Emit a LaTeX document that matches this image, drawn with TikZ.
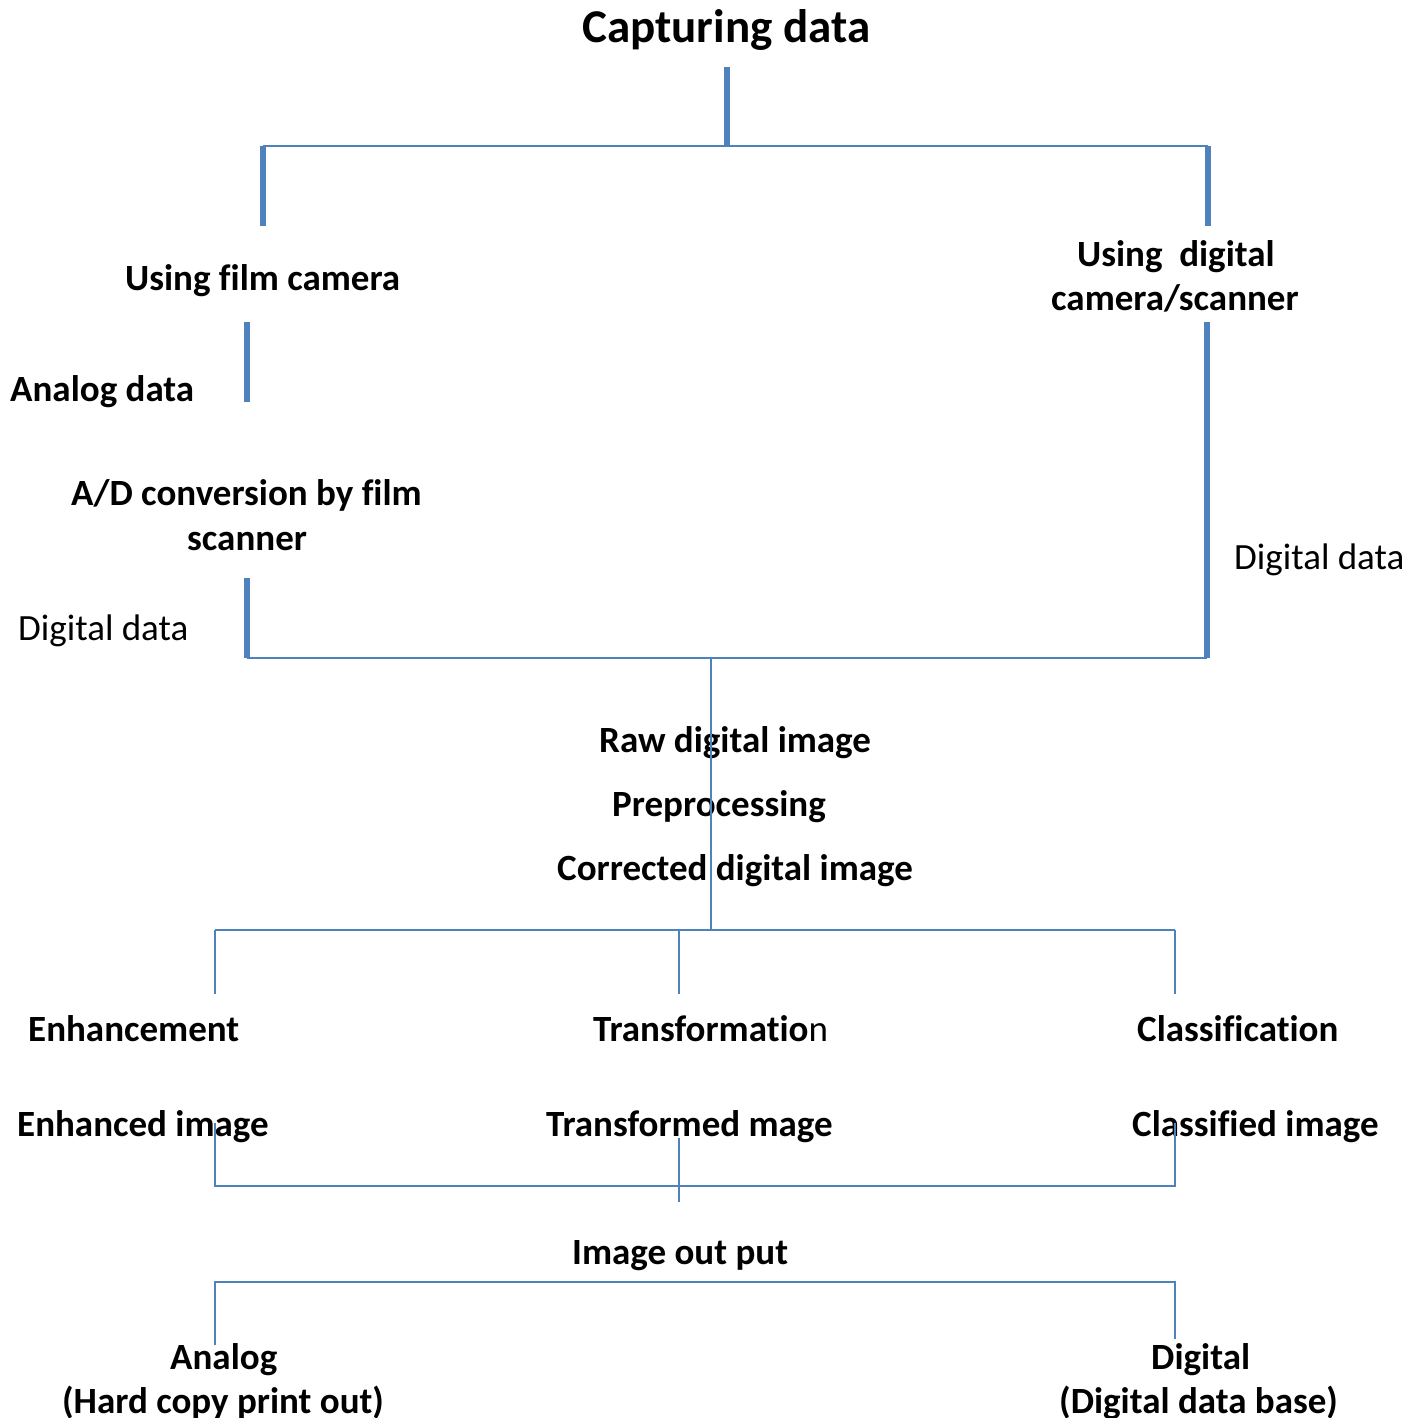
\documentclass[tikz,border=0pt]{standalone}
\usepackage{fontspec}
\setmainfont{Carlito}[Ligatures=CommonOff]
\definecolor{lnblue}{RGB}{79,129,189}
\begin{document}
\begin{tikzpicture}[x=1pt,y=-1pt,
  lbl/.style={anchor=base west,inner sep=0pt,yshift=-2pt,font=\fontsize{37}{45}\selectfont\bfseries},
  reg/.style={anchor=base west,inner sep=0pt,yshift=-2pt,font=\fontsize{37}{45}\selectfont},
  ttl/.style={anchor=base west,inner sep=0pt,yshift=-2pt,font=\fontsize{47}{56}\selectfont\bfseries},
  thk/.style={draw=lnblue,line width=5.5pt},
  thn/.style={draw=lnblue,line width=2pt}]
\useasboundingbox (0,0) rectangle (1412,1418);
% texts
\node[ttl] (title) at (582,41) {Capturing data};
\node[lbl] (film) at (125,288) {Using film camera};
\node[lbl] (analog) at (10,399) {Analog data};
\node[lbl] (ad1) at (71,503) {A/D conversion by film};
\node[lbl] (ad2) at (187,548) {scanner};
\node[reg] (digL) at (18,638) {Digital data};
\node[lbl] (dig1) at (1077,264) {Using\hspace{0.45em}digital};
\node[lbl] (dig2) at (1051,308) {camera/scanner};
\node[reg] (digR) at (1234,567) {Digital data};
\node[lbl] (raw) at (599,750) {Raw digital image};
\node[lbl] (pre) at (612,814) {Preprocessing};
\node[lbl] (corr) at (557,878) {Corrected digital image};
\node[lbl] (enh) at (28,1039) {Enhancement};
\node[lbl] (trf) at (593,1039) {Transformatio{\mdseries n}};
\node[lbl] (cls) at (1137,1039) {Classification};
\node[lbl] (enhi) at (17,1134) {Enhanced image};
\node[lbl] (trfi) at (546,1134) {Transformed mage};
\node[lbl] (clsi) at (1132,1134) {Classified image};
\node[lbl] (out) at (572,1262) {Image out put};
\node[lbl] (ana1) at (170,1367) {Analog};
\node[lbl] (ana2) at (62,1411) {(Hard copy print out)};
\node[lbl] (dg1) at (1151,1367) {Digital};
\node[lbl] (dg2) at (1059,1411) {(Digital data base)};
% connector points
\coordinate (a0) at (727,67);  \coordinate (a1) at (727,146);
\coordinate (b0) at (263,146); \coordinate (b1) at (1208,146);
\coordinate (b2) at (263,226); \coordinate (b3) at (1208,226);
\coordinate (c0) at (247,322); \coordinate (c1) at (247,402);
\coordinate (c2) at (247,578); \coordinate (c3) at (247,658);
\coordinate (d0) at (1207,322); \coordinate (d1) at (1207,658);
\coordinate (e0) at (711,658); \coordinate (e1) at (711,930);
\coordinate (f0) at (215,930); \coordinate (f1) at (1175,930);
\coordinate (f2) at (679,930);
\coordinate (g0) at (215,994); \coordinate (g1) at (679,994); \coordinate (g2) at (1175,994);
\coordinate (h0) at (215,1123); \coordinate (h1) at (215,1186);
\coordinate (h2) at (1175,1186); \coordinate (h3) at (1175,1123);
\coordinate (i0) at (679,1138); \coordinate (i1) at (679,1202);
\coordinate (j0) at (215,1345); \coordinate (j1) at (215,1282);
\coordinate (j2) at (1175,1282); \coordinate (j3) at (1175,1339);
% lines
\draw[thk] (a0) -- (a1);
\draw[thn] (b0) -- (b1);
\draw[thk] (b0) -- (b2);
\draw[thk] (b1) -- (b3);
\draw[thk] (c0) -- (c1);
\draw[thk] (c2) -- (c3);
\draw[thk] (d0) -- (d1);
\draw[thn] (c3) -- (d1);
\draw[thn] (e0) -- (e1);
\draw[thn] (f0) -- (f1);
\draw[thn] (f0) -- (g0);
\draw[thn] (f2) -- (g1);
\draw[thn] (f1) -- (g2);
\draw[thn] (h0) -- (h1) -- (h2) -- (h3);
\draw[thn] (i0) -- (i1);
\draw[thn] (j0) -- (j1) -- (j2) -- (j3);
\end{tikzpicture}
\end{document}
